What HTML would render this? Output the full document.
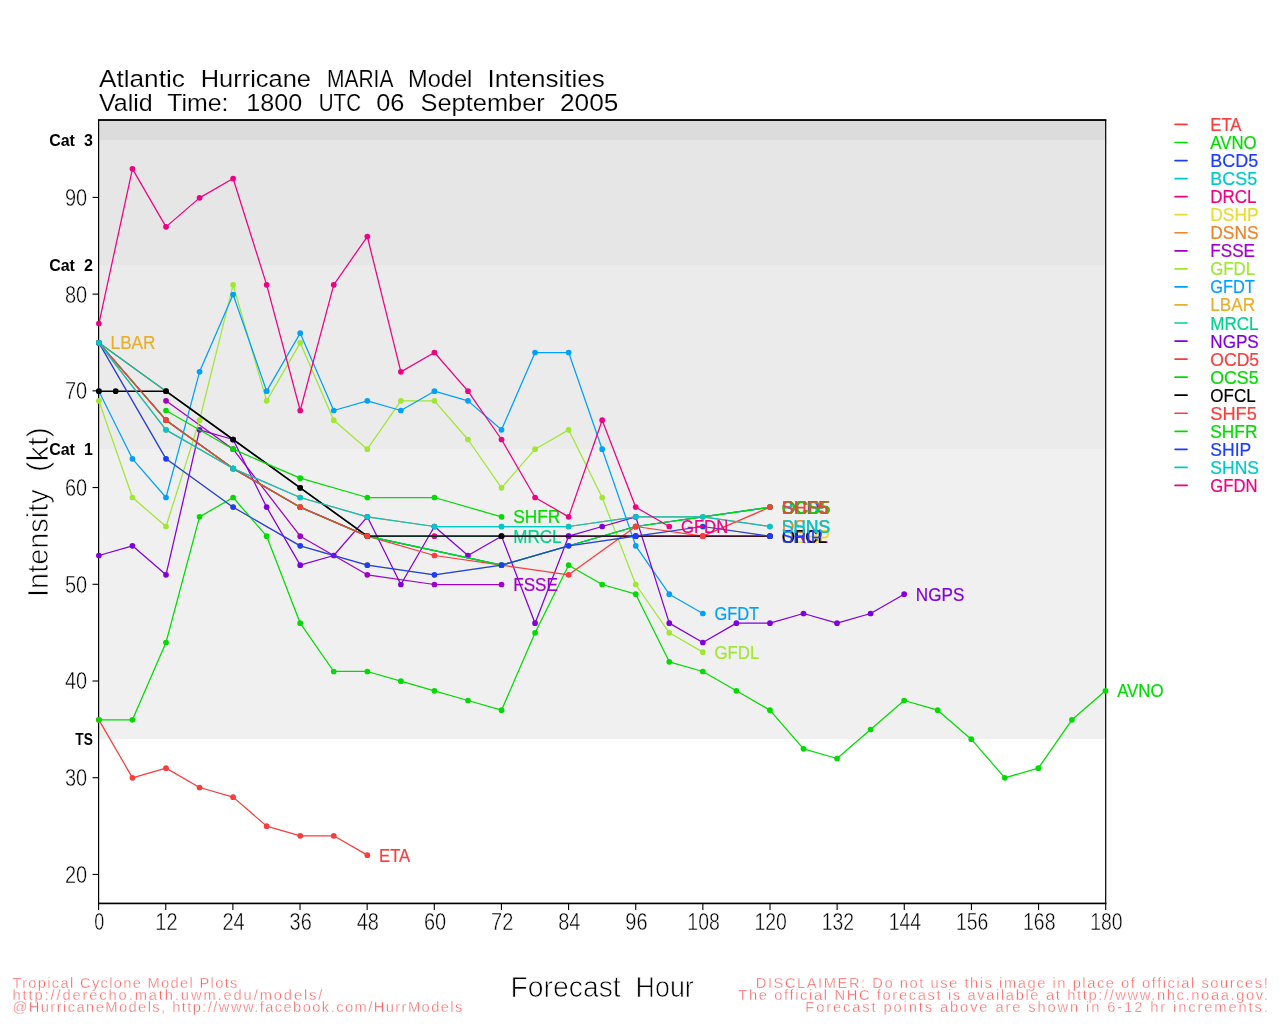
<!DOCTYPE html>
<html lang="en"><head><meta charset="utf-8"><title>Atlantic Hurricane MARIA Model Intensities</title>
<style>html,body{margin:0;padding:0;background:#fff;}body{width:1280px;height:1024px;overflow:hidden;}svg{display:block;}text{font-family:"Liberation Sans",sans-serif;}.lab{font-size:19px;}.tick{font-size:23px;fill:#000;stroke:#fff;stroke-width:0.4px;}.cat{font-size:16px;font-weight:bold;fill:#000;word-spacing:4.6px;}.small{font-size:14.7px;fill:#fb5e5e;stroke:#fff;stroke-width:0.35px;}</style></head><body>
<svg width="1280" height="1024" viewBox="0 0 1280 1024">
<rect x="0" y="0" width="1280" height="1024" fill="#ffffff"/>
<rect x="98.6" y="449" width="1007.1" height="290" fill="#f0f0f0"/>
<rect x="98.6" y="265" width="1007.1" height="184" fill="#ebebeb"/>
<rect x="98.6" y="140" width="1007.1" height="125" fill="#e6e6e6"/>
<rect x="98.6" y="120.1" width="1007.1" height="19.9" fill="#dcdcdc"/>
<rect x="98.6" y="120.1" width="1007.1" height="783.3" fill="none" stroke="#000" stroke-width="1.2"/>
<path d="M97.95 120.1H1106.35M97.95 903.4H1106.35" fill="none" stroke="#000" stroke-width="1.5"/>
<g stroke="#fa3c3c" fill="#fa3c3c">
<polyline points="98.9,719.82 132.45,777.82 166.0,768.15 199.56,787.49 233.11,797.15 266.66,826.15 300.21,835.82 333.76,835.82 367.32,855.15" fill="none" stroke-width="1.25" stroke-linejoin="round"/>
<circle cx="98.9" cy="719.82" r="2.85" stroke="none"/>
<circle cx="132.45" cy="777.82" r="2.85" stroke="none"/>
<circle cx="166.0" cy="768.15" r="2.85" stroke="none"/>
<circle cx="199.56" cy="787.49" r="2.85" stroke="none"/>
<circle cx="233.11" cy="797.15" r="2.85" stroke="none"/>
<circle cx="266.66" cy="826.15" r="2.85" stroke="none"/>
<circle cx="300.21" cy="835.82" r="2.85" stroke="none"/>
<circle cx="333.76" cy="835.82" r="2.85" stroke="none"/>
<circle cx="367.32" cy="855.15" r="2.85" stroke="none"/>
<text class="lab" x="379.02" y="861.55" stroke-width="0.2" textLength="31.2" lengthAdjust="spacingAndGlyphs">ETA</text>
</g>
<g stroke="#00dc00" fill="#00dc00">
<polyline points="98.9,719.82 132.45,719.82 166.0,642.5 199.56,516.84 233.11,497.51 266.66,536.17 300.21,623.16 333.76,671.49 367.32,671.49 400.87,681.16 434.42,690.83 467.97,700.49 501.52,710.16 535.08,632.83 568.63,565.17 602.18,584.5 635.73,594.17 669.28,661.83 702.84,671.49 736.39,690.83 769.94,710.16 803.49,748.82 837.04,758.49 870.6,729.49 904.15,700.49 937.7,710.16 971.25,739.16 1004.8,777.82 1038.36,768.15 1071.91,719.82 1105.46,690.83" fill="none" stroke-width="1.25" stroke-linejoin="round"/>
<circle cx="98.9" cy="719.82" r="2.85" stroke="none"/>
<circle cx="132.45" cy="719.82" r="2.85" stroke="none"/>
<circle cx="166.0" cy="642.5" r="2.85" stroke="none"/>
<circle cx="199.56" cy="516.84" r="2.85" stroke="none"/>
<circle cx="233.11" cy="497.51" r="2.85" stroke="none"/>
<circle cx="266.66" cy="536.17" r="2.85" stroke="none"/>
<circle cx="300.21" cy="623.16" r="2.85" stroke="none"/>
<circle cx="333.76" cy="671.49" r="2.85" stroke="none"/>
<circle cx="367.32" cy="671.49" r="2.85" stroke="none"/>
<circle cx="400.87" cy="681.16" r="2.85" stroke="none"/>
<circle cx="434.42" cy="690.83" r="2.85" stroke="none"/>
<circle cx="467.97" cy="700.49" r="2.85" stroke="none"/>
<circle cx="501.52" cy="710.16" r="2.85" stroke="none"/>
<circle cx="535.08" cy="632.83" r="2.85" stroke="none"/>
<circle cx="568.63" cy="565.17" r="2.85" stroke="none"/>
<circle cx="602.18" cy="584.5" r="2.85" stroke="none"/>
<circle cx="635.73" cy="594.17" r="2.85" stroke="none"/>
<circle cx="669.28" cy="661.83" r="2.85" stroke="none"/>
<circle cx="702.84" cy="671.49" r="2.85" stroke="none"/>
<circle cx="736.39" cy="690.83" r="2.85" stroke="none"/>
<circle cx="769.94" cy="710.16" r="2.85" stroke="none"/>
<circle cx="803.49" cy="748.82" r="2.85" stroke="none"/>
<circle cx="837.04" cy="758.49" r="2.85" stroke="none"/>
<circle cx="870.6" cy="729.49" r="2.85" stroke="none"/>
<circle cx="904.15" cy="700.49" r="2.85" stroke="none"/>
<circle cx="937.7" cy="710.16" r="2.85" stroke="none"/>
<circle cx="971.25" cy="739.16" r="2.85" stroke="none"/>
<circle cx="1004.8" cy="777.82" r="2.85" stroke="none"/>
<circle cx="1038.36" cy="768.15" r="2.85" stroke="none"/>
<circle cx="1071.91" cy="719.82" r="2.85" stroke="none"/>
<circle cx="1105.46" cy="690.83" r="2.85" stroke="none"/>
<text class="lab" x="1117.16" y="697.23" stroke-width="0.2" textLength="46.4" lengthAdjust="spacingAndGlyphs">AVNO</text>
</g>
<g stroke="#1e3cff" fill="#1e3cff">
<polyline points="98.9,342.85 166.0,420.18 233.11,468.51 300.21,507.17 367.32,536.17 501.52,565.17 635.73,526.5 769.94,507.17" fill="none" stroke-width="1.25" stroke-linejoin="round"/>
<circle cx="98.9" cy="342.85" r="2.85" stroke="none"/>
<circle cx="166.0" cy="420.18" r="2.85" stroke="none"/>
<circle cx="233.11" cy="468.51" r="2.85" stroke="none"/>
<circle cx="300.21" cy="507.17" r="2.85" stroke="none"/>
<circle cx="367.32" cy="536.17" r="2.85" stroke="none"/>
<circle cx="501.52" cy="565.17" r="2.85" stroke="none"/>
<circle cx="635.73" cy="526.5" r="2.85" stroke="none"/>
<circle cx="769.94" cy="507.17" r="2.85" stroke="none"/>
<text class="lab" x="781.64" y="513.57" stroke-width="0.2" textLength="47.8" lengthAdjust="spacingAndGlyphs">BCD5</text>
</g>
<g stroke="#00c8c8" fill="#00c8c8">
<polyline points="98.9,342.85 166.0,420.18 233.11,468.51 300.21,507.17 367.32,536.17 501.52,565.17 635.73,526.5 769.94,507.17" fill="none" stroke-width="1.25" stroke-linejoin="round"/>
<circle cx="98.9" cy="342.85" r="2.85" stroke="none"/>
<circle cx="166.0" cy="420.18" r="2.85" stroke="none"/>
<circle cx="233.11" cy="468.51" r="2.85" stroke="none"/>
<circle cx="300.21" cy="507.17" r="2.85" stroke="none"/>
<circle cx="367.32" cy="536.17" r="2.85" stroke="none"/>
<circle cx="501.52" cy="565.17" r="2.85" stroke="none"/>
<circle cx="635.73" cy="526.5" r="2.85" stroke="none"/>
<circle cx="769.94" cy="507.17" r="2.85" stroke="none"/>
<text class="lab" x="781.64" y="513.57" stroke-width="0.2" textLength="46.8" lengthAdjust="spacingAndGlyphs">BCS5</text>
</g>
<g stroke="#f00082" fill="#f00082">
<polyline points="98.9,342.85 166.0,391.18 233.11,439.51 300.21,487.84 367.32,536.17 434.42,536.17 501.52,536.17 568.63,536.17 635.73,536.17 702.84,536.17 769.94,536.17" fill="none" stroke-width="1.25" stroke-linejoin="round"/>
<circle cx="98.9" cy="342.85" r="2.85" stroke="none"/>
<circle cx="166.0" cy="391.18" r="2.85" stroke="none"/>
<circle cx="233.11" cy="439.51" r="2.85" stroke="none"/>
<circle cx="300.21" cy="487.84" r="2.85" stroke="none"/>
<circle cx="367.32" cy="536.17" r="2.85" stroke="none"/>
<circle cx="434.42" cy="536.17" r="2.85" stroke="none"/>
<circle cx="501.52" cy="536.17" r="2.85" stroke="none"/>
<circle cx="568.63" cy="536.17" r="2.85" stroke="none"/>
<circle cx="635.73" cy="536.17" r="2.85" stroke="none"/>
<circle cx="702.84" cy="536.17" r="2.85" stroke="none"/>
<circle cx="769.94" cy="536.17" r="2.85" stroke="none"/>
<text class="lab" x="781.64" y="542.57" stroke-width="0.2" textLength="46.2" lengthAdjust="spacingAndGlyphs">DRCL</text>
</g>
<g stroke="#e6dc32" fill="#e6dc32">
<polyline points="98.9,342.85 166.0,458.84 233.11,507.17 300.21,545.84 367.32,565.17 434.42,574.83 501.52,565.17 568.63,545.84 635.73,536.17 702.84,526.5 769.94,536.17" fill="none" stroke-width="1.25" stroke-linejoin="round"/>
<circle cx="98.9" cy="342.85" r="2.85" stroke="none"/>
<circle cx="166.0" cy="458.84" r="2.85" stroke="none"/>
<circle cx="233.11" cy="507.17" r="2.85" stroke="none"/>
<circle cx="300.21" cy="545.84" r="2.85" stroke="none"/>
<circle cx="367.32" cy="565.17" r="2.85" stroke="none"/>
<circle cx="434.42" cy="574.83" r="2.85" stroke="none"/>
<circle cx="501.52" cy="565.17" r="2.85" stroke="none"/>
<circle cx="568.63" cy="545.84" r="2.85" stroke="none"/>
<circle cx="635.73" cy="536.17" r="2.85" stroke="none"/>
<circle cx="702.84" cy="526.5" r="2.85" stroke="none"/>
<circle cx="769.94" cy="536.17" r="2.85" stroke="none"/>
<text class="lab" x="781.64" y="542.57" stroke-width="0.2" textLength="48.2" lengthAdjust="spacingAndGlyphs">DSHP</text>
</g>
<g stroke="#f08228" fill="#f08228">
<polyline points="98.9,342.85 166.0,429.84 233.11,468.51 300.21,497.51 367.32,516.84 434.42,526.5 501.52,526.5 568.63,526.5 635.73,516.84 702.84,516.84 769.94,526.5" fill="none" stroke-width="1.25" stroke-linejoin="round"/>
<circle cx="98.9" cy="342.85" r="2.85" stroke="none"/>
<circle cx="166.0" cy="429.84" r="2.85" stroke="none"/>
<circle cx="233.11" cy="468.51" r="2.85" stroke="none"/>
<circle cx="300.21" cy="497.51" r="2.85" stroke="none"/>
<circle cx="367.32" cy="516.84" r="2.85" stroke="none"/>
<circle cx="434.42" cy="526.5" r="2.85" stroke="none"/>
<circle cx="501.52" cy="526.5" r="2.85" stroke="none"/>
<circle cx="568.63" cy="526.5" r="2.85" stroke="none"/>
<circle cx="635.73" cy="516.84" r="2.85" stroke="none"/>
<circle cx="702.84" cy="516.84" r="2.85" stroke="none"/>
<circle cx="769.94" cy="526.5" r="2.85" stroke="none"/>
<text class="lab" x="781.64" y="532.9" stroke-width="0.2" textLength="48.2" lengthAdjust="spacingAndGlyphs">DSNS</text>
</g>
<g stroke="#a000c8" fill="#a000c8">
<polyline points="166.0,400.85 233.11,449.18 300.21,536.17 367.32,574.83 434.42,584.5 501.52,584.5" fill="none" stroke-width="1.25" stroke-linejoin="round"/>
<circle cx="166.0" cy="400.85" r="2.85" stroke="none"/>
<circle cx="233.11" cy="449.18" r="2.85" stroke="none"/>
<circle cx="300.21" cy="536.17" r="2.85" stroke="none"/>
<circle cx="367.32" cy="574.83" r="2.85" stroke="none"/>
<circle cx="434.42" cy="584.5" r="2.85" stroke="none"/>
<circle cx="501.52" cy="584.5" r="2.85" stroke="none"/>
<text class="lab" x="513.22" y="590.9" stroke-width="0.2" textLength="44.7" lengthAdjust="spacingAndGlyphs">FSSE</text>
</g>
<g stroke="#a0e632" fill="#a0e632">
<polyline points="98.9,400.85 132.45,497.51 166.0,526.5 199.56,420.18 233.11,284.85 266.66,400.85 300.21,342.85 333.76,420.18 367.32,449.18 400.87,400.85 434.42,400.85 467.97,439.51 501.52,487.84 535.08,449.18 568.63,429.84 602.18,497.51 635.73,584.5 669.28,632.83 702.84,652.16" fill="none" stroke-width="1.25" stroke-linejoin="round"/>
<circle cx="98.9" cy="400.85" r="2.85" stroke="none"/>
<circle cx="132.45" cy="497.51" r="2.85" stroke="none"/>
<circle cx="166.0" cy="526.5" r="2.85" stroke="none"/>
<circle cx="199.56" cy="420.18" r="2.85" stroke="none"/>
<circle cx="233.11" cy="284.85" r="2.85" stroke="none"/>
<circle cx="266.66" cy="400.85" r="2.85" stroke="none"/>
<circle cx="300.21" cy="342.85" r="2.85" stroke="none"/>
<circle cx="333.76" cy="420.18" r="2.85" stroke="none"/>
<circle cx="367.32" cy="449.18" r="2.85" stroke="none"/>
<circle cx="400.87" cy="400.85" r="2.85" stroke="none"/>
<circle cx="434.42" cy="400.85" r="2.85" stroke="none"/>
<circle cx="467.97" cy="439.51" r="2.85" stroke="none"/>
<circle cx="501.52" cy="487.84" r="2.85" stroke="none"/>
<circle cx="535.08" cy="449.18" r="2.85" stroke="none"/>
<circle cx="568.63" cy="429.84" r="2.85" stroke="none"/>
<circle cx="602.18" cy="497.51" r="2.85" stroke="none"/>
<circle cx="635.73" cy="584.5" r="2.85" stroke="none"/>
<circle cx="669.28" cy="632.83" r="2.85" stroke="none"/>
<circle cx="702.84" cy="652.16" r="2.85" stroke="none"/>
<text class="lab" x="714.54" y="658.56" stroke-width="0.2" textLength="44.8" lengthAdjust="spacingAndGlyphs">GFDL</text>
</g>
<g stroke="#00a0ff" fill="#00a0ff">
<polyline points="98.9,391.18 132.45,458.84 166.0,497.51 199.56,371.85 233.11,294.52 266.66,391.18 300.21,333.18 333.76,410.51 367.32,400.85 400.87,410.51 434.42,391.18 467.97,400.85 501.52,429.84 535.08,352.52 568.63,352.52 602.18,449.18 635.73,545.84 669.28,594.17 702.84,613.5" fill="none" stroke-width="1.25" stroke-linejoin="round"/>
<circle cx="98.9" cy="391.18" r="2.85" stroke="none"/>
<circle cx="132.45" cy="458.84" r="2.85" stroke="none"/>
<circle cx="166.0" cy="497.51" r="2.85" stroke="none"/>
<circle cx="199.56" cy="371.85" r="2.85" stroke="none"/>
<circle cx="233.11" cy="294.52" r="2.85" stroke="none"/>
<circle cx="266.66" cy="391.18" r="2.85" stroke="none"/>
<circle cx="300.21" cy="333.18" r="2.85" stroke="none"/>
<circle cx="333.76" cy="410.51" r="2.85" stroke="none"/>
<circle cx="367.32" cy="400.85" r="2.85" stroke="none"/>
<circle cx="400.87" cy="410.51" r="2.85" stroke="none"/>
<circle cx="434.42" cy="391.18" r="2.85" stroke="none"/>
<circle cx="467.97" cy="400.85" r="2.85" stroke="none"/>
<circle cx="501.52" cy="429.84" r="2.85" stroke="none"/>
<circle cx="535.08" cy="352.52" r="2.85" stroke="none"/>
<circle cx="568.63" cy="352.52" r="2.85" stroke="none"/>
<circle cx="602.18" cy="449.18" r="2.85" stroke="none"/>
<circle cx="635.73" cy="545.84" r="2.85" stroke="none"/>
<circle cx="669.28" cy="594.17" r="2.85" stroke="none"/>
<circle cx="702.84" cy="613.5" r="2.85" stroke="none"/>
<text class="lab" x="714.54" y="619.9" stroke-width="0.2" textLength="44.5" lengthAdjust="spacingAndGlyphs">GFDT</text>
</g>
<g stroke="#e6af2d" fill="#e6af2d">
<circle cx="98.9" cy="342.85" r="2.85" stroke="none"/>
<text class="lab" x="110.6" y="349.25" stroke-width="0.2" textLength="44.9" lengthAdjust="spacingAndGlyphs">LBAR</text>
</g>
<g stroke="#00d28c" fill="#00d28c">
<polyline points="98.9,342.85 166.0,391.18 233.11,439.51 300.21,487.84 367.32,536.17 501.52,536.17" fill="none" stroke-width="1.25" stroke-linejoin="round"/>
<circle cx="98.9" cy="342.85" r="2.85" stroke="none"/>
<circle cx="166.0" cy="391.18" r="2.85" stroke="none"/>
<circle cx="233.11" cy="439.51" r="2.85" stroke="none"/>
<circle cx="300.21" cy="487.84" r="2.85" stroke="none"/>
<circle cx="367.32" cy="536.17" r="2.85" stroke="none"/>
<circle cx="501.52" cy="536.17" r="2.85" stroke="none"/>
<text class="lab" x="513.22" y="542.57" stroke-width="0.2" textLength="48.2" lengthAdjust="spacingAndGlyphs">MRCL</text>
</g>
<g stroke="#8200dc" fill="#8200dc">
<polyline points="98.9,555.5 132.45,545.84 166.0,574.83 199.56,429.84 233.11,439.51 266.66,507.17 300.21,565.17 333.76,555.5 367.32,516.84 400.87,584.5 434.42,526.5 467.97,555.5 501.52,536.17 535.08,623.16 568.63,536.17 602.18,526.5 635.73,516.84 669.28,623.16 702.84,642.5 736.39,623.16 769.94,623.16 803.49,613.5 837.04,623.16 870.6,613.5 904.15,594.17" fill="none" stroke-width="1.25" stroke-linejoin="round"/>
<circle cx="98.9" cy="555.5" r="2.85" stroke="none"/>
<circle cx="132.45" cy="545.84" r="2.85" stroke="none"/>
<circle cx="166.0" cy="574.83" r="2.85" stroke="none"/>
<circle cx="199.56" cy="429.84" r="2.85" stroke="none"/>
<circle cx="233.11" cy="439.51" r="2.85" stroke="none"/>
<circle cx="266.66" cy="507.17" r="2.85" stroke="none"/>
<circle cx="300.21" cy="565.17" r="2.85" stroke="none"/>
<circle cx="333.76" cy="555.5" r="2.85" stroke="none"/>
<circle cx="367.32" cy="516.84" r="2.85" stroke="none"/>
<circle cx="400.87" cy="584.5" r="2.85" stroke="none"/>
<circle cx="434.42" cy="526.5" r="2.85" stroke="none"/>
<circle cx="467.97" cy="555.5" r="2.85" stroke="none"/>
<circle cx="501.52" cy="536.17" r="2.85" stroke="none"/>
<circle cx="535.08" cy="623.16" r="2.85" stroke="none"/>
<circle cx="568.63" cy="536.17" r="2.85" stroke="none"/>
<circle cx="602.18" cy="526.5" r="2.85" stroke="none"/>
<circle cx="635.73" cy="516.84" r="2.85" stroke="none"/>
<circle cx="669.28" cy="623.16" r="2.85" stroke="none"/>
<circle cx="702.84" cy="642.5" r="2.85" stroke="none"/>
<circle cx="736.39" cy="623.16" r="2.85" stroke="none"/>
<circle cx="769.94" cy="623.16" r="2.85" stroke="none"/>
<circle cx="803.49" cy="613.5" r="2.85" stroke="none"/>
<circle cx="837.04" cy="623.16" r="2.85" stroke="none"/>
<circle cx="870.6" cy="613.5" r="2.85" stroke="none"/>
<circle cx="904.15" cy="594.17" r="2.85" stroke="none"/>
<text class="lab" x="915.85" y="600.57" stroke-width="0.2" textLength="48.5" lengthAdjust="spacingAndGlyphs">NGPS</text>
</g>
<g stroke="#fa3c3c" fill="#fa3c3c">
<polyline points="98.9,342.85 166.0,420.18 233.11,468.51 300.21,507.17 367.32,536.17 434.42,555.5 501.52,565.17 568.63,574.83 635.73,526.5 702.84,536.17 769.94,507.17" fill="none" stroke-width="1.25" stroke-linejoin="round"/>
<circle cx="98.9" cy="342.85" r="2.85" stroke="none"/>
<circle cx="166.0" cy="420.18" r="2.85" stroke="none"/>
<circle cx="233.11" cy="468.51" r="2.85" stroke="none"/>
<circle cx="300.21" cy="507.17" r="2.85" stroke="none"/>
<circle cx="367.32" cy="536.17" r="2.85" stroke="none"/>
<circle cx="434.42" cy="555.5" r="2.85" stroke="none"/>
<circle cx="501.52" cy="565.17" r="2.85" stroke="none"/>
<circle cx="568.63" cy="574.83" r="2.85" stroke="none"/>
<circle cx="635.73" cy="526.5" r="2.85" stroke="none"/>
<circle cx="702.84" cy="536.17" r="2.85" stroke="none"/>
<circle cx="769.94" cy="507.17" r="2.85" stroke="none"/>
<text class="lab" x="781.64" y="513.57" stroke-width="0.2" textLength="48.8" lengthAdjust="spacingAndGlyphs">OCD5</text>
</g>
<g stroke="#00dc00" fill="#00dc00">
<polyline points="98.9,342.85 166.0,420.18 233.11,468.51 300.21,507.17 367.32,536.17 501.52,565.17 635.73,526.5 769.94,507.17" fill="none" stroke-width="1.25" stroke-linejoin="round"/>
<circle cx="98.9" cy="342.85" r="2.85" stroke="none"/>
<circle cx="166.0" cy="420.18" r="2.85" stroke="none"/>
<circle cx="233.11" cy="468.51" r="2.85" stroke="none"/>
<circle cx="300.21" cy="507.17" r="2.85" stroke="none"/>
<circle cx="367.32" cy="536.17" r="2.85" stroke="none"/>
<circle cx="501.52" cy="565.17" r="2.85" stroke="none"/>
<circle cx="635.73" cy="526.5" r="2.85" stroke="none"/>
<circle cx="769.94" cy="507.17" r="2.85" stroke="none"/>
<text class="lab" x="781.64" y="513.57" stroke-width="0.2" textLength="48.2" lengthAdjust="spacingAndGlyphs">OCS5</text>
</g>
<g stroke="#000000" fill="#000000">
<polyline points="98.9,391.18 115.68,391.18 166.0,391.18 233.11,439.51 300.21,487.84 367.32,536.17" fill="none" stroke-width="1.6" stroke-linejoin="round"/>
<polyline points="367.32,536.17 501.52,536.17 635.73,536.17 769.94,536.17" fill="none" stroke-width="1.25" stroke-linejoin="round"/>
<circle cx="98.9" cy="391.18" r="2.85" stroke="none"/>
<circle cx="115.68" cy="391.18" r="2.85" stroke="none"/>
<circle cx="166.0" cy="391.18" r="2.85" stroke="none"/>
<circle cx="233.11" cy="439.51" r="2.85" stroke="none"/>
<circle cx="300.21" cy="487.84" r="2.85" stroke="none"/>
<circle cx="367.32" cy="536.17" r="2.85" stroke="none"/>
<circle cx="501.52" cy="536.17" r="2.85" stroke="none"/>
<circle cx="635.73" cy="536.17" r="2.85" stroke="none"/>
<circle cx="769.94" cy="536.17" r="2.85" stroke="none"/>
<text class="lab" x="781.64" y="542.57" stroke-width="0.2" textLength="45.3" lengthAdjust="spacingAndGlyphs">OFCL</text>
<circle cx="702.84" cy="536.17" r="2.85" fill="#fa3c3c" stroke="none"/>
</g>
<g stroke="#fa3c3c" fill="#fa3c3c">
<polyline points="98.9,342.85 166.0,420.18 233.11,468.51 300.21,507.17 367.32,536.17" fill="none" stroke-width="1.25" stroke-linejoin="round"/>
<circle cx="98.9" cy="342.85" r="2.85" stroke="none"/>
<circle cx="166.0" cy="420.18" r="2.85" stroke="none"/>
<circle cx="233.11" cy="468.51" r="2.85" stroke="none"/>
<circle cx="300.21" cy="507.17" r="2.85" stroke="none"/>
<circle cx="367.32" cy="536.17" r="2.85" stroke="none"/>
<circle cx="635.73" cy="526.5" r="2.85" stroke="none"/>
<circle cx="769.94" cy="507.17" r="2.85" stroke="none"/>
<text class="lab" x="781.64" y="513.57" stroke-width="0.2" textLength="46.5" lengthAdjust="spacingAndGlyphs">SHF5</text>
</g>
<g stroke="#00dc00" fill="#00dc00">
<polyline points="166.0,410.51 233.11,449.18 300.21,478.17 367.32,497.51 434.42,497.51 501.52,516.84" fill="none" stroke-width="1.25" stroke-linejoin="round"/>
<circle cx="166.0" cy="410.51" r="2.85" stroke="none"/>
<circle cx="233.11" cy="449.18" r="2.85" stroke="none"/>
<circle cx="300.21" cy="478.17" r="2.85" stroke="none"/>
<circle cx="367.32" cy="497.51" r="2.85" stroke="none"/>
<circle cx="434.42" cy="497.51" r="2.85" stroke="none"/>
<circle cx="501.52" cy="516.84" r="2.85" stroke="none"/>
<text class="lab" x="513.22" y="523.24" stroke-width="0.2" textLength="47.1" lengthAdjust="spacingAndGlyphs">SHFR</text>
</g>
<g stroke="#1e3cff" fill="#1e3cff">
<polyline points="98.9,342.85 166.0,458.84 233.11,507.17 300.21,545.84 367.32,565.17 434.42,574.83 501.52,565.17 568.63,545.84 635.73,536.17 702.84,526.5 769.94,536.17" fill="none" stroke-width="1.25" stroke-linejoin="round"/>
<circle cx="98.9" cy="342.85" r="2.85" stroke="none"/>
<circle cx="166.0" cy="458.84" r="2.85" stroke="none"/>
<circle cx="233.11" cy="507.17" r="2.85" stroke="none"/>
<circle cx="300.21" cy="545.84" r="2.85" stroke="none"/>
<circle cx="367.32" cy="565.17" r="2.85" stroke="none"/>
<circle cx="434.42" cy="574.83" r="2.85" stroke="none"/>
<circle cx="501.52" cy="565.17" r="2.85" stroke="none"/>
<circle cx="568.63" cy="545.84" r="2.85" stroke="none"/>
<circle cx="635.73" cy="536.17" r="2.85" stroke="none"/>
<circle cx="702.84" cy="526.5" r="2.85" stroke="none"/>
<circle cx="769.94" cy="536.17" r="2.85" stroke="none"/>
<text class="lab" x="781.64" y="542.57" stroke-width="0.2" textLength="40.9" lengthAdjust="spacingAndGlyphs">SHIP</text>
</g>
<g stroke="#00c8c8" fill="#00c8c8">
<polyline points="98.9,342.85 166.0,429.84 233.11,468.51 300.21,497.51 367.32,516.84 434.42,526.5 501.52,526.5 568.63,526.5 635.73,516.84 702.84,516.84 769.94,526.5" fill="none" stroke-width="1.25" stroke-linejoin="round"/>
<circle cx="98.9" cy="342.85" r="2.85" stroke="none"/>
<circle cx="166.0" cy="429.84" r="2.85" stroke="none"/>
<circle cx="233.11" cy="468.51" r="2.85" stroke="none"/>
<circle cx="300.21" cy="497.51" r="2.85" stroke="none"/>
<circle cx="367.32" cy="516.84" r="2.85" stroke="none"/>
<circle cx="434.42" cy="526.5" r="2.85" stroke="none"/>
<circle cx="501.52" cy="526.5" r="2.85" stroke="none"/>
<circle cx="568.63" cy="526.5" r="2.85" stroke="none"/>
<circle cx="635.73" cy="516.84" r="2.85" stroke="none"/>
<circle cx="702.84" cy="516.84" r="2.85" stroke="none"/>
<circle cx="769.94" cy="526.5" r="2.85" stroke="none"/>
<text class="lab" x="781.64" y="532.9" stroke-width="0.2" textLength="48.7" lengthAdjust="spacingAndGlyphs">SHNS</text>
</g>
<g stroke="#f00082" fill="#f00082">
<polyline points="98.9,323.52 132.45,168.86 166.0,226.86 199.56,197.86 233.11,178.53 266.66,284.85 300.21,410.51 333.76,284.85 367.32,236.52 400.87,371.85 434.42,352.52 467.97,391.18 501.52,439.51 535.08,497.51 568.63,516.84 602.18,420.18 635.73,507.17 669.28,526.5" fill="none" stroke-width="1.25" stroke-linejoin="round"/>
<circle cx="98.9" cy="323.52" r="2.85" stroke="none"/>
<circle cx="132.45" cy="168.86" r="2.85" stroke="none"/>
<circle cx="166.0" cy="226.86" r="2.85" stroke="none"/>
<circle cx="199.56" cy="197.86" r="2.85" stroke="none"/>
<circle cx="233.11" cy="178.53" r="2.85" stroke="none"/>
<circle cx="266.66" cy="284.85" r="2.85" stroke="none"/>
<circle cx="300.21" cy="410.51" r="2.85" stroke="none"/>
<circle cx="333.76" cy="284.85" r="2.85" stroke="none"/>
<circle cx="367.32" cy="236.52" r="2.85" stroke="none"/>
<circle cx="400.87" cy="371.85" r="2.85" stroke="none"/>
<circle cx="434.42" cy="352.52" r="2.85" stroke="none"/>
<circle cx="467.97" cy="391.18" r="2.85" stroke="none"/>
<circle cx="501.52" cy="439.51" r="2.85" stroke="none"/>
<circle cx="535.08" cy="497.51" r="2.85" stroke="none"/>
<circle cx="568.63" cy="516.84" r="2.85" stroke="none"/>
<circle cx="602.18" cy="420.18" r="2.85" stroke="none"/>
<circle cx="635.73" cy="507.17" r="2.85" stroke="none"/>
<circle cx="669.28" cy="526.5" r="2.85" stroke="none"/>
<text class="lab" x="680.98" y="532.9" stroke-width="0.2" textLength="47.2" lengthAdjust="spacingAndGlyphs">GFDN</text>
</g>
<g stroke="#000" stroke-width="1.1">
<line x1="98.6" y1="903.4" x2="98.6" y2="909.9"/>
<line x1="165.74" y1="903.4" x2="165.74" y2="909.9"/>
<line x1="232.88" y1="903.4" x2="232.88" y2="909.9"/>
<line x1="300.02" y1="903.4" x2="300.02" y2="909.9"/>
<line x1="367.16" y1="903.4" x2="367.16" y2="909.9"/>
<line x1="434.3" y1="903.4" x2="434.3" y2="909.9"/>
<line x1="501.44" y1="903.4" x2="501.44" y2="909.9"/>
<line x1="568.58" y1="903.4" x2="568.58" y2="909.9"/>
<line x1="635.72" y1="903.4" x2="635.72" y2="909.9"/>
<line x1="702.86" y1="903.4" x2="702.86" y2="909.9"/>
<line x1="770.0" y1="903.4" x2="770.0" y2="909.9"/>
<line x1="837.14" y1="903.4" x2="837.14" y2="909.9"/>
<line x1="904.28" y1="903.4" x2="904.28" y2="909.9"/>
<line x1="971.42" y1="903.4" x2="971.42" y2="909.9"/>
<line x1="1038.56" y1="903.4" x2="1038.56" y2="909.9"/>
<line x1="1105.7" y1="903.4" x2="1105.7" y2="909.9"/>
<line x1="92.5" y1="874.45" x2="98.6" y2="874.45"/>
<line x1="92.5" y1="777.73" x2="98.6" y2="777.73"/>
<line x1="92.5" y1="681.01" x2="98.6" y2="681.01"/>
<line x1="92.5" y1="584.29" x2="98.6" y2="584.29"/>
<line x1="92.5" y1="487.57" x2="98.6" y2="487.57"/>
<line x1="92.5" y1="390.85" x2="98.6" y2="390.85"/>
<line x1="92.5" y1="294.13" x2="98.6" y2="294.13"/>
<line x1="92.5" y1="197.41" x2="98.6" y2="197.41"/>
</g>
<text class="tick" x="99.3" y="929.6" text-anchor="middle" textLength="10.0" lengthAdjust="spacingAndGlyphs">0</text>
<text class="tick" x="166.44" y="929.6" text-anchor="middle" textLength="22.2" lengthAdjust="spacingAndGlyphs">12</text>
<text class="tick" x="233.58" y="929.6" text-anchor="middle" textLength="22.2" lengthAdjust="spacingAndGlyphs">24</text>
<text class="tick" x="300.72" y="929.6" text-anchor="middle" textLength="22.2" lengthAdjust="spacingAndGlyphs">36</text>
<text class="tick" x="367.86" y="929.6" text-anchor="middle" textLength="22.2" lengthAdjust="spacingAndGlyphs">48</text>
<text class="tick" x="435.0" y="929.6" text-anchor="middle" textLength="22.2" lengthAdjust="spacingAndGlyphs">60</text>
<text class="tick" x="502.14" y="929.6" text-anchor="middle" textLength="22.2" lengthAdjust="spacingAndGlyphs">72</text>
<text class="tick" x="569.28" y="929.6" text-anchor="middle" textLength="22.2" lengthAdjust="spacingAndGlyphs">84</text>
<text class="tick" x="636.42" y="929.6" text-anchor="middle" textLength="22.2" lengthAdjust="spacingAndGlyphs">96</text>
<text class="tick" x="703.56" y="929.6" text-anchor="middle" textLength="32.4" lengthAdjust="spacingAndGlyphs">108</text>
<text class="tick" x="770.7" y="929.6" text-anchor="middle" textLength="32.4" lengthAdjust="spacingAndGlyphs">120</text>
<text class="tick" x="837.84" y="929.6" text-anchor="middle" textLength="32.4" lengthAdjust="spacingAndGlyphs">132</text>
<text class="tick" x="904.98" y="929.6" text-anchor="middle" textLength="32.4" lengthAdjust="spacingAndGlyphs">144</text>
<text class="tick" x="972.12" y="929.6" text-anchor="middle" textLength="32.4" lengthAdjust="spacingAndGlyphs">156</text>
<text class="tick" x="1039.26" y="929.6" text-anchor="middle" textLength="32.4" lengthAdjust="spacingAndGlyphs">168</text>
<text class="tick" x="1106.4" y="929.6" text-anchor="middle" textLength="32.4" lengthAdjust="spacingAndGlyphs">180</text>
<text class="tick" x="87.2" y="882.85" text-anchor="end" textLength="22.2" lengthAdjust="spacingAndGlyphs">20</text>
<text class="tick" x="87.2" y="786.13" text-anchor="end" textLength="22.2" lengthAdjust="spacingAndGlyphs">30</text>
<text class="tick" x="87.2" y="689.41" text-anchor="end" textLength="22.2" lengthAdjust="spacingAndGlyphs">40</text>
<text class="tick" x="87.2" y="592.69" text-anchor="end" textLength="22.2" lengthAdjust="spacingAndGlyphs">50</text>
<text class="tick" x="87.2" y="495.97" text-anchor="end" textLength="22.2" lengthAdjust="spacingAndGlyphs">60</text>
<text class="tick" x="87.2" y="399.25" text-anchor="end" textLength="22.2" lengthAdjust="spacingAndGlyphs">70</text>
<text class="tick" x="87.2" y="302.53" text-anchor="end" textLength="22.2" lengthAdjust="spacingAndGlyphs">80</text>
<text class="tick" x="87.2" y="205.81" text-anchor="end" textLength="22.2" lengthAdjust="spacingAndGlyphs">90</text>
<text class="cat" x="92.9" y="745.24" text-anchor="end" textLength="17.6" lengthAdjust="spacingAndGlyphs">TS</text>
<text class="cat" x="92.9" y="455.08" text-anchor="end">Cat 1</text>
<text class="cat" x="92.9" y="271.31" text-anchor="end">Cat 2</text>
<text class="cat" x="92.9" y="145.58" text-anchor="end">Cat 3</text>
<text y="86.8" font-size="23.7px" fill="#000" stroke="#fff" stroke-width="0.15"><tspan x="98.9" textLength="86.0" lengthAdjust="spacingAndGlyphs">Atlantic</tspan> <tspan x="200.75" textLength="110.25" lengthAdjust="spacingAndGlyphs">Hurricane</tspan> <tspan x="327" textLength="65.25" lengthAdjust="spacingAndGlyphs">MARIA</tspan> <tspan x="408" textLength="64.25" lengthAdjust="spacingAndGlyphs">Model</tspan> <tspan x="487.5" textLength="117.25" lengthAdjust="spacingAndGlyphs">Intensities</tspan></text>
<text y="110.6" font-size="23.7px" fill="#000" stroke="#fff" stroke-width="0.15"><tspan x="98.9" textLength="53.8" lengthAdjust="spacingAndGlyphs">Valid</tspan> <tspan x="167.2" textLength="61.3" lengthAdjust="spacingAndGlyphs">Time:</tspan> <tspan x="246.25" textLength="56.0" lengthAdjust="spacingAndGlyphs">1800</tspan> <tspan x="318.75" textLength="42.25" lengthAdjust="spacingAndGlyphs">UTC</tspan> <tspan x="376.25" textLength="28.25" lengthAdjust="spacingAndGlyphs">06</tspan> <tspan x="420.5" textLength="124.25" lengthAdjust="spacingAndGlyphs">September</tspan> <tspan x="560" textLength="58.5" lengthAdjust="spacingAndGlyphs">2005</tspan></text>
<text y="997.0" font-size="28.6px" fill="#000" stroke="#fff" stroke-width="0.75"><tspan x="510.5" textLength="110.2" lengthAdjust="spacingAndGlyphs">Forecast</tspan> <tspan x="635.6" textLength="58.2" lengthAdjust="spacingAndGlyphs">Hour</tspan></text>
<text y="0" transform="translate(48.4,596) rotate(-90)" font-size="28.6px" fill="#000" stroke="#fff" stroke-width="0.75"><tspan x="-1" textLength="107.8" lengthAdjust="spacingAndGlyphs">Intensity</tspan> <tspan x="124" textLength="45.0" lengthAdjust="spacingAndGlyphs">(kt)</tspan></text>
<line x1="1175.1" y1="124.45" x2="1187.0" y2="124.45" stroke="#fa3c3c" stroke-width="1.7" stroke-linecap="round"/>
<text class="lab" x="1210.3" y="130.95" fill="#fa3c3c" stroke="#fa3c3c" stroke-width="0.2" textLength="31.2" lengthAdjust="spacingAndGlyphs">ETA</text>
<line x1="1175.1" y1="142.5" x2="1187.0" y2="142.5" stroke="#00dc00" stroke-width="1.7" stroke-linecap="round"/>
<text class="lab" x="1210.3" y="149.0" fill="#00dc00" stroke="#00dc00" stroke-width="0.2" textLength="46.4" lengthAdjust="spacingAndGlyphs">AVNO</text>
<line x1="1175.1" y1="160.55" x2="1187.0" y2="160.55" stroke="#1e3cff" stroke-width="1.7" stroke-linecap="round"/>
<text class="lab" x="1210.3" y="167.05" fill="#1e3cff" stroke="#1e3cff" stroke-width="0.2" textLength="47.8" lengthAdjust="spacingAndGlyphs">BCD5</text>
<line x1="1175.1" y1="178.6" x2="1187.0" y2="178.6" stroke="#00c8c8" stroke-width="1.7" stroke-linecap="round"/>
<text class="lab" x="1210.3" y="185.1" fill="#00c8c8" stroke="#00c8c8" stroke-width="0.2" textLength="46.8" lengthAdjust="spacingAndGlyphs">BCS5</text>
<line x1="1175.1" y1="196.65" x2="1187.0" y2="196.65" stroke="#f00082" stroke-width="1.7" stroke-linecap="round"/>
<text class="lab" x="1210.3" y="203.15" fill="#f00082" stroke="#f00082" stroke-width="0.2" textLength="46.2" lengthAdjust="spacingAndGlyphs">DRCL</text>
<line x1="1175.1" y1="214.7" x2="1187.0" y2="214.7" stroke="#e6dc32" stroke-width="1.7" stroke-linecap="round"/>
<text class="lab" x="1210.3" y="221.2" fill="#e6dc32" stroke="#e6dc32" stroke-width="0.2" textLength="48.2" lengthAdjust="spacingAndGlyphs">DSHP</text>
<line x1="1175.1" y1="232.75" x2="1187.0" y2="232.75" stroke="#f08228" stroke-width="1.7" stroke-linecap="round"/>
<text class="lab" x="1210.3" y="239.25" fill="#f08228" stroke="#f08228" stroke-width="0.2" textLength="48.2" lengthAdjust="spacingAndGlyphs">DSNS</text>
<line x1="1175.1" y1="250.8" x2="1187.0" y2="250.8" stroke="#a000c8" stroke-width="1.7" stroke-linecap="round"/>
<text class="lab" x="1210.3" y="257.3" fill="#a000c8" stroke="#a000c8" stroke-width="0.2" textLength="44.7" lengthAdjust="spacingAndGlyphs">FSSE</text>
<line x1="1175.1" y1="268.85" x2="1187.0" y2="268.85" stroke="#a0e632" stroke-width="1.7" stroke-linecap="round"/>
<text class="lab" x="1210.3" y="275.35" fill="#a0e632" stroke="#a0e632" stroke-width="0.2" textLength="44.8" lengthAdjust="spacingAndGlyphs">GFDL</text>
<line x1="1175.1" y1="286.9" x2="1187.0" y2="286.9" stroke="#00a0ff" stroke-width="1.7" stroke-linecap="round"/>
<text class="lab" x="1210.3" y="293.4" fill="#00a0ff" stroke="#00a0ff" stroke-width="0.2" textLength="44.5" lengthAdjust="spacingAndGlyphs">GFDT</text>
<line x1="1175.1" y1="304.95" x2="1187.0" y2="304.95" stroke="#e6af2d" stroke-width="1.7" stroke-linecap="round"/>
<text class="lab" x="1210.3" y="311.45" fill="#e6af2d" stroke="#e6af2d" stroke-width="0.2" textLength="44.9" lengthAdjust="spacingAndGlyphs">LBAR</text>
<line x1="1175.1" y1="323.0" x2="1187.0" y2="323.0" stroke="#00d28c" stroke-width="1.7" stroke-linecap="round"/>
<text class="lab" x="1210.3" y="329.5" fill="#00d28c" stroke="#00d28c" stroke-width="0.2" textLength="48.2" lengthAdjust="spacingAndGlyphs">MRCL</text>
<line x1="1175.1" y1="341.05" x2="1187.0" y2="341.05" stroke="#8200dc" stroke-width="1.7" stroke-linecap="round"/>
<text class="lab" x="1210.3" y="347.55" fill="#8200dc" stroke="#8200dc" stroke-width="0.2" textLength="48.5" lengthAdjust="spacingAndGlyphs">NGPS</text>
<line x1="1175.1" y1="359.1" x2="1187.0" y2="359.1" stroke="#fa3c3c" stroke-width="1.7" stroke-linecap="round"/>
<text class="lab" x="1210.3" y="365.6" fill="#fa3c3c" stroke="#fa3c3c" stroke-width="0.2" textLength="48.8" lengthAdjust="spacingAndGlyphs">OCD5</text>
<line x1="1175.1" y1="377.15" x2="1187.0" y2="377.15" stroke="#00dc00" stroke-width="1.7" stroke-linecap="round"/>
<text class="lab" x="1210.3" y="383.65" fill="#00dc00" stroke="#00dc00" stroke-width="0.2" textLength="48.2" lengthAdjust="spacingAndGlyphs">OCS5</text>
<line x1="1175.1" y1="395.2" x2="1187.0" y2="395.2" stroke="#000000" stroke-width="1.7" stroke-linecap="round"/>
<text class="lab" x="1210.3" y="401.7" fill="#000000" stroke="#000000" stroke-width="0.2" textLength="45.3" lengthAdjust="spacingAndGlyphs">OFCL</text>
<line x1="1175.1" y1="413.25" x2="1187.0" y2="413.25" stroke="#fa3c3c" stroke-width="1.7" stroke-linecap="round"/>
<text class="lab" x="1210.3" y="419.75" fill="#fa3c3c" stroke="#fa3c3c" stroke-width="0.2" textLength="46.5" lengthAdjust="spacingAndGlyphs">SHF5</text>
<line x1="1175.1" y1="431.3" x2="1187.0" y2="431.3" stroke="#00dc00" stroke-width="1.7" stroke-linecap="round"/>
<text class="lab" x="1210.3" y="437.8" fill="#00dc00" stroke="#00dc00" stroke-width="0.2" textLength="47.1" lengthAdjust="spacingAndGlyphs">SHFR</text>
<line x1="1175.1" y1="449.35" x2="1187.0" y2="449.35" stroke="#1e3cff" stroke-width="1.7" stroke-linecap="round"/>
<text class="lab" x="1210.3" y="455.85" fill="#1e3cff" stroke="#1e3cff" stroke-width="0.2" textLength="40.9" lengthAdjust="spacingAndGlyphs">SHIP</text>
<line x1="1175.1" y1="467.4" x2="1187.0" y2="467.4" stroke="#00c8c8" stroke-width="1.7" stroke-linecap="round"/>
<text class="lab" x="1210.3" y="473.9" fill="#00c8c8" stroke="#00c8c8" stroke-width="0.2" textLength="48.7" lengthAdjust="spacingAndGlyphs">SHNS</text>
<line x1="1175.1" y1="485.45" x2="1187.0" y2="485.45" stroke="#f00082" stroke-width="1.7" stroke-linecap="round"/>
<text class="lab" x="1210.3" y="491.95" fill="#f00082" stroke="#f00082" stroke-width="0.2" textLength="47.2" lengthAdjust="spacingAndGlyphs">GFDN</text>
<text class="small" x="12.4" y="987.6" textLength="225" lengthAdjust="spacing">Tropical Cyclone Model Plots</text>
<text class="small" x="12.4" y="999.8" textLength="310" lengthAdjust="spacing">http://derecho.math.uwm.edu/models/</text>
<text class="small" x="12.4" y="1011.8" textLength="450" lengthAdjust="spacing">@HurricaneModels, http://www.facebook.com/HurrModels</text>
<text class="small" x="1267.8" y="987.6" text-anchor="end" textLength="512" lengthAdjust="spacing">DISCLAIMER: Do not use this image in place of official sources!</text>
<text class="small" x="1267.8" y="999.8" text-anchor="end" textLength="529.5" lengthAdjust="spacing">The official NHC forecast is available at http://www.nhc.noaa.gov.</text>
<text class="small" x="1267.8" y="1011.8" text-anchor="end" textLength="462.5" lengthAdjust="spacing">Forecast points above are shown in 6-12 hr increments.</text>
</svg></body></html>
